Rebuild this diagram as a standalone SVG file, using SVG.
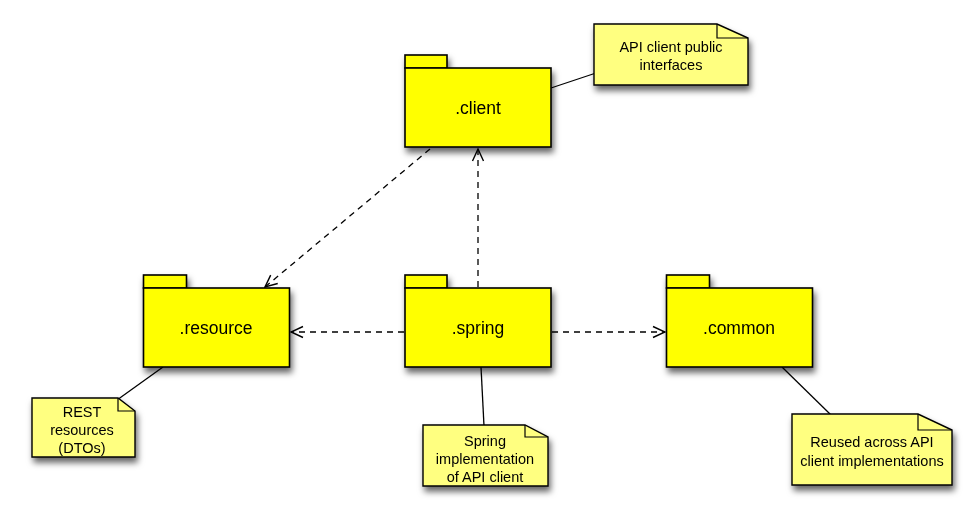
<svg xmlns="http://www.w3.org/2000/svg" width="980" height="522" viewBox="0 0 980 522">
<style>
.pkg{fill:#ffff00;stroke:#000;stroke-width:1.6}
.note{fill:#ffff80;stroke:#000;stroke-width:1.4}
.fold{fill:none;stroke:#000;stroke-width:1.2}
.lbl{font-family:"Liberation Sans",Arial,sans-serif;font-size:17.5px;text-anchor:middle;fill:#000}
.nt{font-family:"Liberation Sans",Arial,sans-serif;font-size:14.5px;text-anchor:middle;fill:#000}
.dep{fill:none;stroke:#000;stroke-width:1.3;stroke-dasharray:6,5}
.anchor{fill:none;stroke:#000;stroke-width:1.3}
</style>
<defs>
<filter id="sh" x="-10%" y="-10%" width="130%" height="140%">
<feDropShadow dx="2" dy="5" stdDeviation="3" flood-color="#000" flood-opacity="0.6"/>
</filter>
<marker id="open" viewBox="0 0 14 14" refX="13" refY="7" markerWidth="14" markerHeight="14" markerUnits="userSpaceOnUse" orient="auto">
<path d="M1,1.5 L13,7 L1,12.5" fill="none" stroke="#000" stroke-width="1.4"/>
</marker>
</defs>
<g id="connectors">
<line class="anchor" x1="551" y1="88" x2="596" y2="73"/>
<line class="anchor" x1="163" y1="367" x2="117" y2="400"/>
<line class="anchor" x1="481" y1="367" x2="484" y2="426"/>
<line class="anchor" x1="782" y1="367" x2="831" y2="415"/>
<line class="dep" x1="430" y1="149" x2="265" y2="287" marker-end="url(#open)"/>
<line class="dep" x1="478" y1="287" x2="478" y2="149" marker-end="url(#open)"/>
<line class="dep" x1="404" y1="332" x2="291" y2="332" marker-end="url(#open)"/>
<line class="dep" x1="552" y1="332" x2="665" y2="332" marker-end="url(#open)"/>
</g>
<g id="client" filter="url(#sh)">
<rect class="pkg" x="405" y="55" width="42" height="13"/>
<rect class="pkg" x="405" y="68" width="146" height="79"/>
<text class="lbl" x="478" y="114">.client</text>
</g>
<g id="resource" filter="url(#sh)">
<rect class="pkg" x="143.5" y="275" width="43" height="13"/>
<rect class="pkg" x="143.5" y="288" width="146" height="79"/>
<text class="lbl" x="216" y="334">.resource</text>
</g>
<g id="spring" filter="url(#sh)">
<rect class="pkg" x="405" y="275" width="42" height="13"/>
<rect class="pkg" x="405" y="288" width="146" height="79"/>
<text class="lbl" x="478" y="334">.spring</text>
</g>
<g id="common" filter="url(#sh)">
<rect class="pkg" x="666.5" y="275" width="43" height="13"/>
<rect class="pkg" x="666.5" y="288" width="146" height="79"/>
<text class="lbl" x="739" y="334">.common</text>
</g>
<g id="note-client" filter="url(#sh)">
<path class="note" d="M594,24 H717 L748,38 V85 H594 Z"/>
<path class="fold" d="M717,24 V38 H748"/>
<text class="nt" x="671" y="52">API client public</text>
<text class="nt" x="671" y="70">interfaces</text>
</g>
<g id="note-resource" filter="url(#sh)">
<path class="note" d="M32,398 H118 L135,411 V457 H32 Z"/>
<path class="fold" d="M118,398 V411 H135"/>
<text class="nt" x="82" y="417">REST</text>
<text class="nt" x="82" y="435">resources</text>
<text class="nt" x="82" y="453">(DTOs)</text>
</g>
<g id="note-spring" filter="url(#sh)">
<path class="note" d="M423,425 H525 L548,437 V486 H423 Z"/>
<path class="fold" d="M525,425 V437 H548"/>
<text class="nt" x="485" y="446">Spring</text>
<text class="nt" x="485" y="464">implementation</text>
<text class="nt" x="485" y="482">of API client</text>
</g>
<g id="note-common" filter="url(#sh)">
<path class="note" d="M792,414 H918 L952,430 V485 H792 Z"/>
<path class="fold" d="M918,414 V430 H952"/>
<text class="nt" x="872" y="447">Reused across API</text>
<text class="nt" x="872" y="466">client implementations</text>
</g>
</svg>
